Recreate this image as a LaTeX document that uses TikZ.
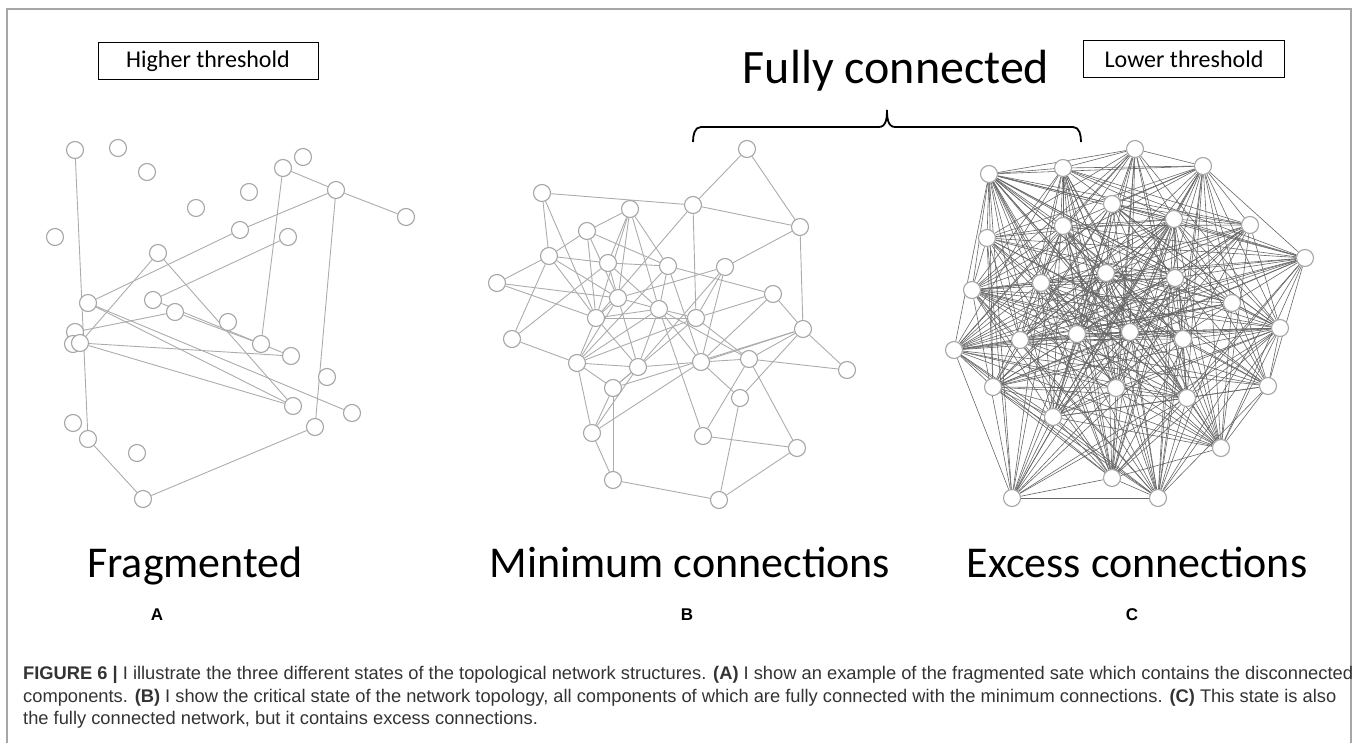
\documentclass[tikz,border=0pt]{standalone}
\usepackage{fontspec}
\setmainfont{Carlito}
\newfontfamily\capfont{Liberation Sans}
\usetikzlibrary{positioning}
\pgfdeclarelayer{edges}
\pgfsetlayers{edges,main}
\tikzstyle{vertex} = [draw=gray!70, line width=1.1pt, circle, fill=white, minimum size=17pt, inner sep=0pt]
\tikzstyle{link} = [draw=gray!65, line width=0.9pt]
\tikzstyle{dense} = [draw=black!60, line width=0.6pt]
\tikzstyle{threshbox} = [draw, line width=1pt, rectangle, text centered, minimum height=37pt, font=\fontsize{24}{28}\selectfont]
\tikzstyle{title} = [anchor=base, font=\fontsize{44}{50}\selectfont]
\tikzstyle{panel} = [anchor=base, font=\capfont\bfseries\fontsize{17}{20}\selectfont]
\tikzstyle{capline} = [anchor=base west, inner sep=0pt, text=black!80, font=\capfont\fontsize{18.3}{22}\selectfont]

\begin{document}
\begin{tikzpicture}[x=1pt, y=-1pt]
    \useasboundingbox (0,0) rectangle (1358,743);
    \draw[gray!70, line width=1.2pt] (7,743) -- (7,9) -- (1351,9) -- (1351,743);

    % threshold boxes and brace
    \node[threshbox, minimum width=220pt] (high) at (208,61) {Higher threshold};
    \node[threshbox, minimum width=201pt] (low) at (1184,59) {Lower threshold};
    \node[title, font=\fontsize{48}{54}\selectfont] (full) at (896,84) {Fully connected};
    \coordinate (tip) at (887,110);
    \draw[line width=1.8pt] (693,142) to[out=90,in=180] (701,127) -- (879,127) to[out=0,in=270] (tip);
    \draw[line width=1.8pt] (1081,142) to[out=90,in=0] (1073,127) -- (895,127) to[out=180,in=270] (tip);

    % A: fragmented
    \foreach \n/\x/\y in {1/75/150, 2/118/148, 3/147/172, 4/303/157, 5/283/168, 6/336/190,
        7/249/192, 8/196/208, 9/406/217, 10/55/237, 11/240/230, 12/288/237, 13/158/253,
        14/88/303, 15/153/300, 16/175/312, 17/228/322, 18/75/332, 19/73/344, 20/80/343,
        21/261/344, 22/291/356, 23/327/377, 24/293/406, 25/352/413, 26/315/427, 27/73/423,
        28/88/439, 29/137/453, 30/143/499}
        \node[vertex] (a\n) at (\x,\y) {};

    % B: minimum connections
    \foreach \n/\x/\y in {1/747/149, 2/542/193, 3/693/205, 4/630/209, 5/800/227, 6/587/231,
        7/549/256, 8/608/263, 9/668/266, 10/725/267, 11/497/283, 12/773/294, 13/618/298,
        14/659/309, 15/596/318, 16/696/318, 17/803/329, 18/512/339, 19/577/363, 20/638/367,
        21/701/362, 22/749/359, 23/847/370, 24/613/388, 25/740/398, 26/592/433, 27/703/436,
        28/797/448, 29/613/480, 30/719/500}
        \node[vertex] (b\n) at (\x,\y) {};

    % C: excess connections
    \foreach \n/\x/\y in {1/989/174, 2/1063/168, 3/1135/149, 4/1203/166, 5/1112/204, 6/1174/219,
        7/1250/225, 8/1063/226, 9/987/238, 10/1305/258, 11/1106/273, 12/1175/278, 13/1041/283,
        14/972/290, 15/1232/303, 16/1280/328, 17/1077/334, 18/1130/332, 19/1183/339, 20/1020/340,
        21/954/350, 22/993/387, 23/1116/388, 24/1187/398, 25/1268/386, 26/1053/417, 27/1221/448,
        28/1112/478, 29/1012/498, 30/1158/498}
        \node[vertex] (c\n) at (\x,\y) {};

    \begin{pgfonlayer}{edges}
        \foreach \u/\v in {1/28, 5/6, 6/9, 6/11, 11/14, 6/26, 5/21, 12/15, 13/20, 13/24,
            14/24, 14/25, 15/22, 16/21, 18/16, 20/22, 20/24, 28/30, 30/26}
            \path[link] (a\u) -- (a\v);
        \foreach \u/\v in {1/3, 1/5, 2/3, 3/5, 3/16, 3/15, 2/7, 2/15, 4/6, 4/8, 4/13, 4/15,
            4/9, 4/14, 6/7, 6/9, 6/15, 6/13, 7/8, 7/11, 7/18, 7/15, 7/13, 8/9, 8/18, 8/13,
            8/14, 9/14, 9/19, 9/21, 9/12, 5/10, 10/21, 10/13, 10/20, 10/16, 12/17, 12/16,
            14/16, 5/17, 17/23, 17/21, 17/22, 17/25, 22/23, 21/22, 21/25, 22/27, 22/28,
            25/30, 27/28, 28/30, 29/30, 14/27, 11/13, 11/15, 18/19, 15/19, 15/20, 15/13,
            15/14, 15/16, 13/14, 13/20, 13/19, 14/20, 14/19, 14/21, 20/21, 20/24, 19/20,
            19/24, 19/26, 24/29, 26/29, 24/26, 20/26, 26/21, 24/17, 16/19, 16/24, 16/22,
            14/22, 21/12}
            \path[link] (b\u) -- (b\v);
        \foreach \i in {1,...,29} {
            \pgfmathtruncatemacro\nxt{\i+1}
            \foreach \j in {\nxt,...,30} {
                \pgfmathtruncatemacro\keep{mod(\i*\i+3*\j+7*\i*\j,10)<7}
                \ifnum\keep=1 \path[dense] (c\i) -- (c\j); \fi
            }
        }
    \end{pgfonlayer}

    % panel titles
    \node[title] (frag) at (195,577) {Fragmented};
    \node[title] (mini) at (690,577) {Minimum connections};
    \node[title] (exc) at (1137,577) {Excess connections};
    \node[panel] (pa) at (157,620) {A};
    \node[panel] (pb) at (687,620) {B};
    \node[panel] (pc) at (1132,620) {C};

    % caption
    \node[capline] (cap1) at (23,679) {\textbf{FIGURE 6 |} I illustrate the three different states of the topological network structures. \textbf{(A)} I show an example of the fragmented sate which contains the disconnected};
    \node[capline] (cap2) at (23,702) {components. \textbf{(B)} I show the critical state of the network topology, all components of which are fully connected with the minimum connections. \textbf{(C)} This state is also};
    \node[capline] (cap3) at (23,724) {the fully connected network, but it contains excess connections.};
\end{tikzpicture}
\end{document}
